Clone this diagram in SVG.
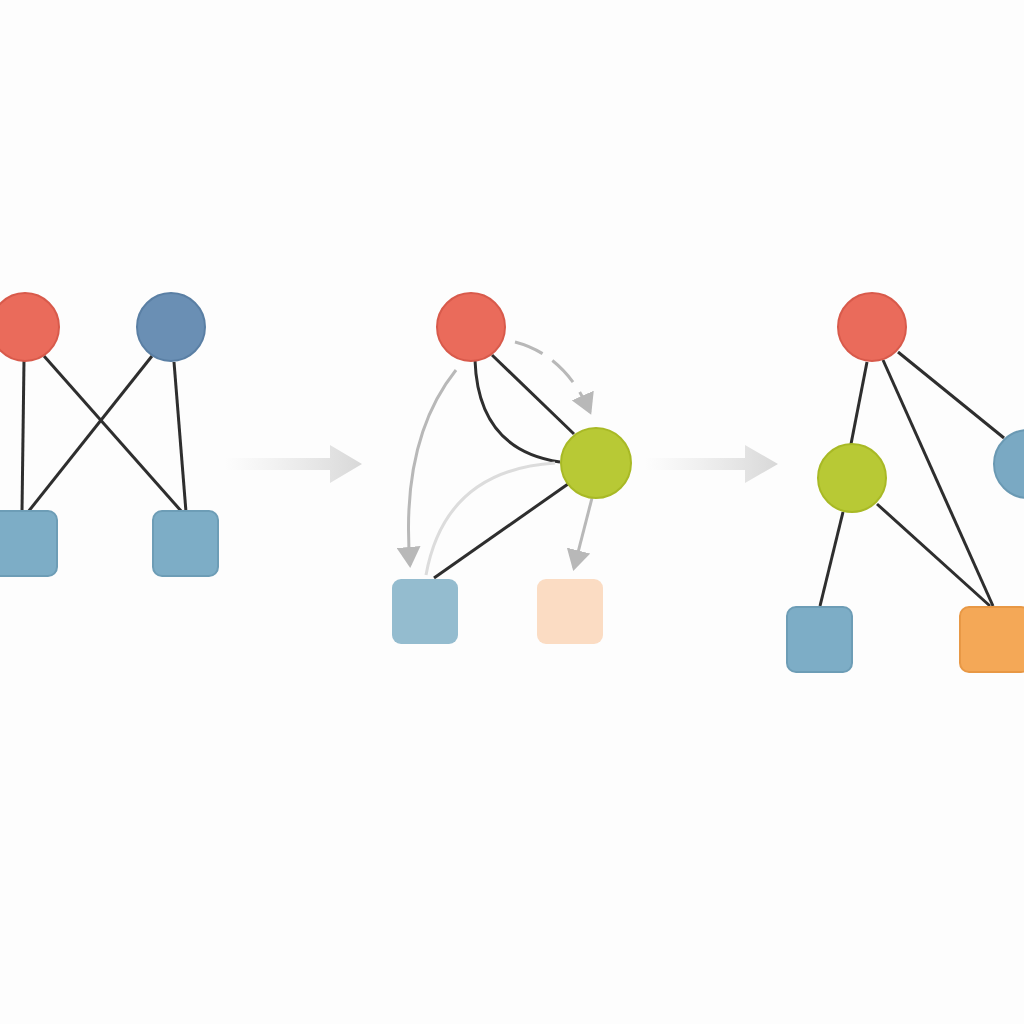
<svg xmlns="http://www.w3.org/2000/svg" width="1024" height="1024" viewBox="0 0 1024 1024">
<defs>
<style>
.red{fill:#ea6b5b;stroke:#d85a4b;stroke-width:2}
.blueC{fill:#6a8fb4;stroke:#5a7fa4;stroke-width:2}
.blueS{fill:#7dadc6;stroke:#6d9db6;stroke-width:2}
.green{fill:#b8c935;stroke:#a8b925;stroke-width:2}
.e{stroke:#2e2e2e;stroke-width:3;fill:none}
.g{stroke:#b8b8b8;stroke-width:3;fill:none}
.g2{stroke:#dcdcdc;stroke-width:3;fill:none}
</style>
<marker id="ah" markerWidth="8" markerHeight="8" refX="6" refY="4" orient="auto" markerUnits="strokeWidth"><path d="M0,0 L7,4 L0,8 Z" fill="#b8b8b8"/></marker>
<linearGradient id="ar" x1="0" x2="1"><stop offset="0" stop-color="#e0e0e0" stop-opacity="0"/><stop offset="1" stop-color="#d8d8d8"/></linearGradient>
</defs>
<rect width="1024" height="1024" fill="#fdfdfd"/>
<g id="connectors">
<line class="e" x1="24" y1="360" x2="22" y2="512"/>
<line class="e" x1="44" y1="356" x2="182" y2="512"/>
<line class="e" x1="152" y1="356" x2="28" y2="512"/>
<line class="e" x1="174" y1="362" x2="186" y2="512"/>
<path class="e" d="M475,360 Q478,450 560,462"/>
<line class="e" x1="492" y1="355" x2="574" y2="434"/>
<line class="e" x1="568" y1="484" x2="434" y2="578"/>
<path class="g" d="M456,370 Q400,440 410,565" marker-end="url(#ah)"/>
<path class="g" d="M515,342 Q565,355 590,412" stroke-dasharray="30,12" marker-end="url(#ah)"/>
<line class="g" x1="592" y1="498" x2="574" y2="568" marker-end="url(#ah)"/>
<path class="g2" d="M426,575 Q445,470 555,463"/>
<line class="e" x1="867" y1="362" x2="851" y2="444"/>
<line class="e" x1="883" y1="360" x2="993" y2="606"/>
<line class="e" x1="898" y1="352" x2="1004" y2="438"/>
<line class="e" x1="843" y1="512" x2="820" y2="606"/>
<line class="e" x1="877" y1="504" x2="990" y2="606"/>
<polygon points="225,458 330,458 330,445 362,464 330,483 330,470 225,470" fill="url(#ar)"/>
<polygon points="645,458 745,458 745,445 778,464 745,483 745,470 645,470" fill="url(#ar)"/>
</g>
<g id="n1"><circle class="red" cx="25" cy="327" r="34"/></g>
<g id="n2"><circle class="blueC" cx="171" cy="327" r="34"/></g>
<g id="n3"><rect class="blueS" x="-8" y="511" width="65" height="65" rx="9"/></g>
<g id="n4"><rect class="blueS" x="153" y="511" width="65" height="65" rx="9"/></g>
<g id="m1"><circle class="red" cx="471" cy="327" r="34"/></g>
<g id="m2"><circle class="green" cx="596" cy="463" r="35"/></g>
<g id="m3"><rect x="392" y="579" width="66" height="65" rx="9" fill="#94bccf"/></g>
<g id="m4"><rect x="537" y="579" width="66" height="65" rx="9" fill="#fbdcc3"/></g>
<g id="r1"><circle class="red" cx="872" cy="327" r="34"/></g>
<g id="r2"><circle class="green" cx="852" cy="478" r="34"/></g>
<g id="r3"><circle cx="1028" cy="464" r="34" fill="#7aa9c3" stroke="#6a99b3" stroke-width="2"/></g>
<g id="r4"><rect class="blueS" x="787" y="607" width="65" height="65" rx="9"/></g>
<g id="r5"><rect x="960" y="607" width="70" height="65" rx="9" fill="#f4a857" stroke="#e89845" stroke-width="2"/></g>
</svg>
